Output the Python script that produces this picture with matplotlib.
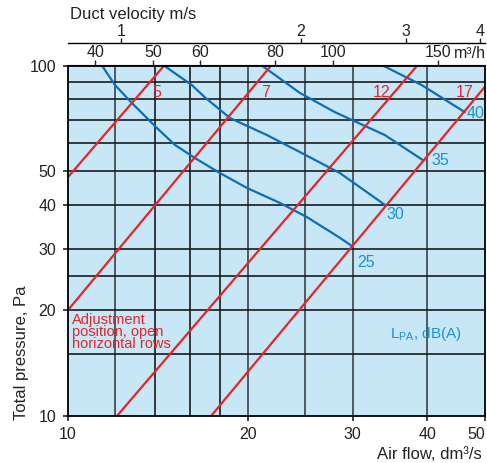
import numpy as np
import matplotlib.pyplot as plt
from matplotlib.ticker import NullLocator

plt.rcParams['font.family'] = ['Liberation Sans', 'DejaVu Sans']

# axis ticks and grid (air flow dm3/s, pressure Pa)
x_ticks = [10, 20, 30, 40, 50]
y_ticks = [10, 20, 30, 40, 50, 100]
grid_q_black = [14, 16, 18]
grid_q_gray = [12, 20, 25, 30, 40]
grid_p = [15, 20, 25, 30, 40, 50, 60, 70, 80, 90]

m3h_ticks = [40, 50, 60, 80, 100, 150]
vel_ticks = [1, 2, 3, 4]
duct_area = 12.27  # dm2, 125 mm duct

# adjustment positions (straight lines, end points)
adj_labels = ['5', '7', '12', '17']
adj_q = [[10, 14.5], [10, 21.9], [12.1, 38.5], [17.4, 50]]
adj_p = [[48, 100], [20, 100], [10, 100], [10, 87]]
adj_label_q = [14.1, 21.4, 33.6, 46.2]
adj_label_p = 84

# sound level curves LpA dB(A)
snd_labels = ['25', '30', '35', '40']
snd_q = [
    [11.4, 11.99, 12.8, 14.04, 15.11, 16.32, 17.97, 19.94, 22.65, 25.14, 28.55, 29.91],
    [14.48, 16.13, 16.96, 18.68, 21.54, 24.47, 28.55, 33.96],
    [21.13, 24.47, 28.0, 33.96, 39.32],
    [33.7, 39.17, 46.24],
]
snd_p = [
    [100, 87.9, 78.1, 66.7, 59.3, 54.4, 49.3, 44.7, 40.5, 36.9, 32.2, 30.5],
    [100, 87.9, 81.1, 70.8, 63.3, 56.6, 49.3, 40.0],
    [100, 83.5, 73.6, 63.3, 53.7],
    [100, 87.9, 73.6],
]
snd_offsets = [(5, -17), (2, -10), (9, 0), (2, -1)]  # label offset in pixels

red = '#e52329'
blue = '#0b6fb8'
blue_txt = '#1b91d3'
ink = '#222222'

fig = plt.figure(figsize=(4.87, 4.63), dpi=100)
ax = fig.add_axes([68/487, 1-415.5/463, 417/487, 350/463])
ax.set_facecolor('#c7e7f7')
ax.set_xscale('log')
ax.set_yscale('log')
ax.set_xlim(10, 50)
ax.set_ylim(10, 100)

for q in grid_q_black:
    ax.axvline(q, color='#1a1a1a', lw=1.2, zorder=1)
for q in grid_q_gray:
    ax.axvline(q, color='#4d5a60', lw=1.4, zorder=1)
for p in grid_p:
    ax.axhline(p, color='#1a1a1a', lw=1.2, zorder=1)

for lab, q, p, lq in zip(adj_labels, adj_q, adj_p, adj_label_q):
    ax.plot(q, p, color=red, lw=1.6, zorder=3, solid_capstyle='butt')
    ax.text(lq, adj_label_p, lab, color=red, fontsize=11.5, ha='center', va='center', zorder=4)

for lab, q, p, off in zip(snd_labels, snd_q, snd_p, snd_offsets):
    ax.plot(q, p, color=blue, lw=1.6, zorder=2)
    ax.annotate(lab, (q[-1], p[-1]), xytext=off, textcoords='offset pixels',
                color=blue_txt, fontsize=11.5, ha='left', va='center', zorder=4)

ax.text(0.01, 0.293, 'Adjustment\nposition, open\nhorizontal rows', transform=ax.transAxes,
        color=red, fontsize=10.5, ha='left', va='top', linespacing=0.8)
ax.text(0.772, 0.221, r'L$_\mathregular{PA}$, dB(A)', transform=ax.transAxes,
        color=blue_txt, fontsize=11, ha='left', va='baseline')

ax.set_xticks(x_ticks, labels=[str(v) for v in x_ticks])
ax.set_yticks(y_ticks, labels=[str(v) for v in y_ticks])
ax.xaxis.set_minor_locator(NullLocator())
ax.yaxis.set_minor_locator(NullLocator())
ax.tick_params(length=3.6, width=1.2, pad=5, labelsize=11.5, colors=ink)
ax.get_xticklabels()[-1].set_ha('right')
for s in ax.spines.values():
    s.set_linewidth(1.3)
    s.set_zorder(5)

# top axes: m3/h and duct velocity
sec_m3h = ax.secondary_xaxis('top', functions=(lambda q: q*3.6, lambda m: m/3.6))
sec_m3h.set_xticks(m3h_ticks, labels=[str(v) for v in m3h_ticks])
sec_m3h.xaxis.set_minor_locator(NullLocator())
sec_m3h.tick_params(length=3.6, width=1.0, pad=0, labelsize=11.5, colors=ink)
ax.annotate('m³/h', (150/3.6, 1), xycoords=('data', 'axes fraction'),
            xytext=(16, 5), textcoords='offset pixels', fontsize=11.5,
            ha='left', va='bottom', color=ink)

sec_vel = ax.secondary_xaxis(1.064, functions=(lambda q: q/duct_area, lambda v: v*duct_area))
sec_vel.set_xticks(vel_ticks, labels=[str(v) for v in vel_ticks])
sec_vel.xaxis.set_minor_locator(NullLocator())
sec_vel.tick_params(length=3.6, width=1.0, pad=-0.5, labelsize=11.5, colors=ink)
sec_vel.spines['top'].set_linewidth(1.0)

fig.text(70/487, 1-19/463, 'Duct velocity m/s', fontsize=12, ha='left', va='baseline', color=ink)
fig.text(482/487, 1-459/463, 'Air flow, dm³/s', fontsize=12, ha='right', va='baseline', color=ink)
fig.text(22/487, 1-420/463, 'Total pressure, Pa', fontsize=12, rotation=90, ha='center', va='bottom', color=ink)

fig.savefig('out.png', dpi=100)
